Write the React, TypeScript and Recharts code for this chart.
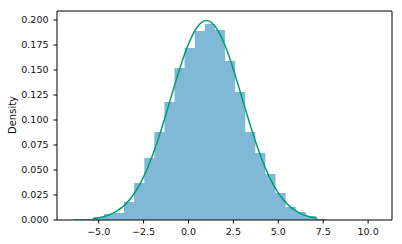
import { Area, ComposedChart, Label, Line, ReferenceLine, XAxis, YAxis } from 'recharts';

// histogram bins (left edges + final right edge) and density per bin
const binEdges = [
  -6.4, -5.84, -5.28, -4.71, -4.15, -3.59, -3.03, -2.46, -1.9, -1.34, -0.78, -0.22, 0.35,
  0.91, 1.47, 2.03, 2.6, 3.16, 3.72, 4.28, 4.84, 5.41, 5.97, 6.53, 7.09, 7.66,
];
const binDensity = [
  0.001, 0.001, 0.003, 0.006, 0.007, 0.018, 0.037, 0.062, 0.088, 0.118, 0.152, 0.172, 0.189,
  0.196, 0.19, 0.159, 0.128, 0.088, 0.067, 0.046, 0.027, 0.013, 0.008, 0.004, 0.001,
];

// fitted curve
const curveX = [
  -5.33, -5, -4.5, -4, -3.5, -3, -2.5, -2, -1.5, -1, -0.5, 0, 0.5, 1, 1.5, 2, 2.5, 3, 3.5, 4,
  4.5, 5, 5.5, 6, 6.5, 7, 7.17,
];
const curveY = [
  0.0013, 0.0022, 0.0045, 0.0088, 0.0159, 0.027, 0.0431, 0.0648, 0.0913, 0.121, 0.1506, 0.176,
  0.1933, 0.1995, 0.1933, 0.176, 0.1506, 0.121, 0.0913, 0.0648, 0.0431, 0.027, 0.0159, 0.0088,
  0.0045, 0.0022, 0.0017,
];

const xTicks = [-5, -2.5, 0, 2.5, 5, 7.5, 10];
const yTicks = [0, 0.025, 0.05, 0.075, 0.1, 0.125, 0.15, 0.175, 0.2];
const xDomain = [-7.32, 11.33];
const yDomain = [0, 0.209];

const histData = binEdges.map((x, i) => ({ x, density: i < binDensity.length ? binDensity[i] : 0 }));
const curveData = curveX.map((x, i) => ({ x, fit: curveY[i] }));

const font = { fontFamily: 'DejaVu Sans', fontSize: 9.5, fill: '#111' };
const fmtX = (v: number) => v.toFixed(1).replace('-', '\u2212');

export default function App() {
  return (
    <div style={{ position: 'absolute', left: 0, top: 0, width: 402, height: 244, background: '#fff' }}>
      <ComposedChart width={402} height={244} margin={{ top: 11, right: 10, bottom: 0, left: 0 }}>
        <XAxis
          dataKey="x"
          type="number"
          domain={xDomain}
          ticks={xTicks}
          tickFormatter={fmtX}
          height={24}
          tick={font}
          tickSize={3.5}
          tickMargin={4.5}
          stroke="#000"
          allowDataOverflow
        />
        <YAxis
          type="number"
          domain={yDomain}
          ticks={yTicks}
          tickFormatter={(v: number) => v.toFixed(3)}
          width={57}
          tick={font}
          tickSize={3.5}
          tickMargin={5}
          stroke="#000"
          allowDataOverflow
        >
          <Label
            content={() => (
              <text
                x={12}
                y={115}
                transform="rotate(-90 12 115)"
                textAnchor="middle"
                dominantBaseline="central"
                style={{ ...font, fontSize: 10 }}
              >
                Density
              </text>
            )}
          />
        </YAxis>
        <Area
          data={histData}
          dataKey="density"
          type="stepAfter"
          fill="#0173b2"
          fillOpacity={0.5}
          stroke="none"
          isAnimationActive={false}
        />
        <Line
          data={curveData}
          dataKey="fit"
          type="natural"
          stroke="#029e73"
          strokeWidth={1.5}
          dot={false}
          activeDot={false}
          isAnimationActive={false}
        />
        {/* top and right spines */}
        <ReferenceLine y={yDomain[1]} stroke="#000" strokeWidth={1} />
        <ReferenceLine x={xDomain[1]} stroke="#000" strokeWidth={1} />
      </ComposedChart>
    </div>
  );
}
